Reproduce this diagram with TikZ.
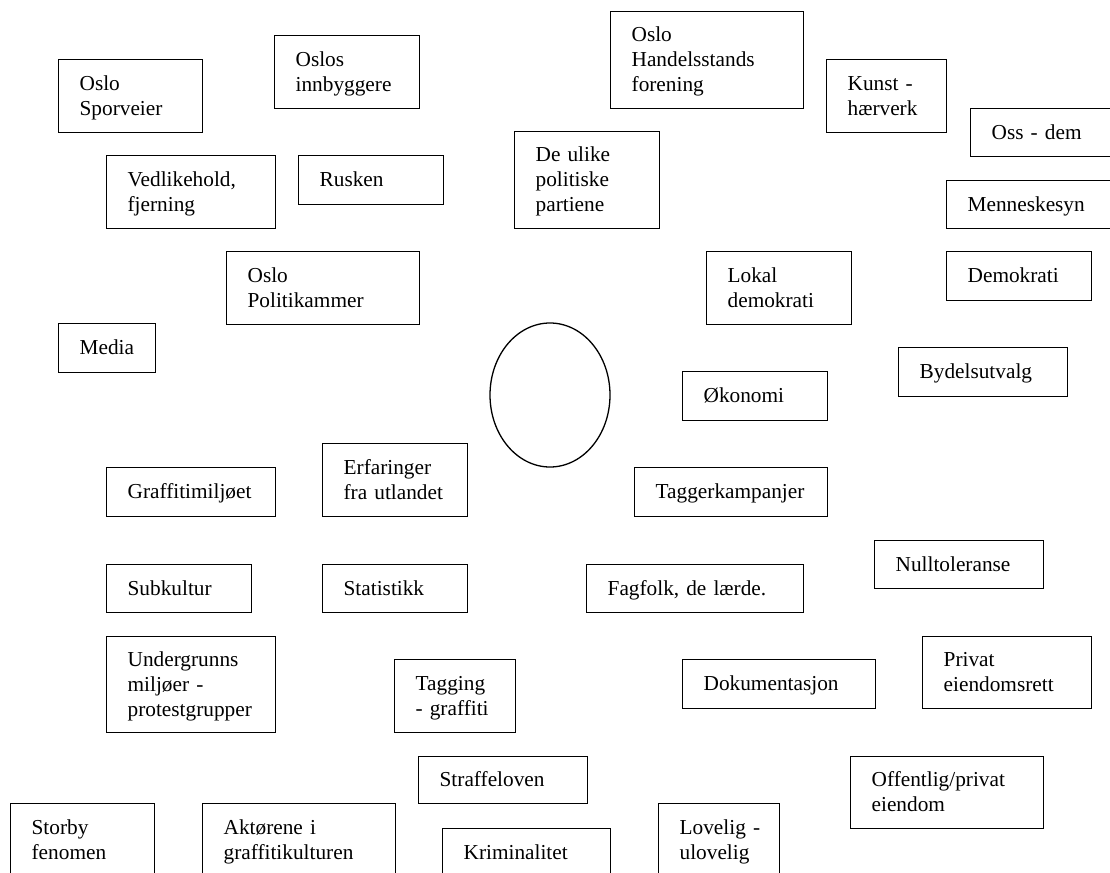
\documentclass[tikz,border=0pt]{standalone}
\usepackage{fontspec}
\setmainfont{Liberation Serif}
\usetikzlibrary{shapes.geometric}
\hyphenpenalty=10000
\exhyphenpenalty=10000
\newcommand{\linestrut}{\rule[-6pt]{0pt}{25pt}}
\tikzset{
	box/.style={draw, line width=1.3pt, anchor=north west, align=left,
		inner xsep=21pt, inner ysep=0pt,
		font=\fontsize{21.3pt}{25pt}\selectfont,
		execute at begin node=\linestrut, execute at end node=\linestrut},
	topic/.style n args={2}{box, text width=#1, minimum height=#2}
}
\begin{document}
\begin{tikzpicture}[x=1pt, y=-1pt]
	% page is 1110 x 872, y runs downwards
	\useasboundingbox (0,0) rectangle (1110,872);
	\clip (0,0) rectangle (1110,872);
	
	% the centre of the map
	\node[draw, ellipse, line width=1.3pt, inner sep=0pt, minimum width=120pt, minimum height=144pt] (centre) at (550,395) {};
	
	% top left
	\node[topic={102pt}{73pt}] (sporveier) at (58,59) {Oslo\\Sporveier};
	\node[topic={103pt}{73pt}] (innbyggere) at (274,35) {Oslos\\innbyggere};
	\node[topic={127pt}{73pt}] (vedlikehold) at (106,155) {Vedlikehold,\\fjerning};
	\node[topic={103pt}{49pt}] (rusken) at (298,155) {Rusken};
	\node[topic={103pt}{97pt}] (partiene) at (514,131) {De~ulike\\politiske\\partiene};
	\node[topic={151pt}{73pt}] (politikammer) at (226,251) {Oslo\\Politikammer};
	\node[topic={55pt}{49pt}] (media) at (58,323) {Media};
	
	% top right
	\node[topic={151pt}{97pt}] (handelsstand) at (610,11) {Oslo\\Handelsstands\\forening};
	\node[topic={78pt}{73pt}] (kunst) at (826,59) {Kunst~-\\hærverk};
	\node[topic={160pt}{48pt}] (ossdem) at (970,108) {Oss~-~dem};
	\node[topic={160pt}{48pt}] (menneskesyn) at (946,180) {Menneskesyn};
	\node[topic={103pt}{49pt}] (demokrati) at (946,251) {Demokrati};
	\node[topic={103pt}{73pt}] (lokal) at (706,251) {Lokal\\demokrati};
	\node[topic={127pt}{49pt}] (bydel) at (898,347) {Bydelsutvalg};
	\node[topic={103pt}{49pt}] (okonomi) at (682,371) {Økonomi};
	
	% middle rows
	\node[topic={127pt}{49pt}] (graffitimiljo) at (106,467) {Graffitimiljøet};
	\node[topic={103pt}{73pt}] (erfaringer) at (322,443) {Erfaringer\\fra~utlandet};
	\node[topic={151pt}{49pt}] (taggerkampanjer) at (634,467) {Taggerkampanjer};
	\node[topic={103pt}{48pt}] (subkultur) at (106,564) {Subkultur};
	\node[topic={103pt}{48pt}] (statistikk) at (322,564) {Statistikk};
	\node[topic={175pt}{48pt}] (fagfolk) at (586,564) {Fagfolk,~de~lærde.};
	\node[topic={127pt}{48pt}] (nulltoleranse) at (874,540) {Nulltoleranse};
	\node[topic={127pt}{96pt}] (undergrunn) at (106,636) {Undergrunns\\miljøer~-\\protestgrupper};
	\node[topic={79pt}{73pt}] (tagging) at (394,659) {Tagging\\-~graffiti};
	\node[topic={151pt}{49pt}] (dokumentasjon) at (682,659) {Dokumentasjon};
	\node[topic={127pt}{72pt}] (privat) at (922,636) {Privat\\eiendomsrett};
	
	% bottom, cut by the page edge
	\node[topic={127pt}{47pt}] (straffeloven) at (418,756) {Straffeloven};
	\node[topic={151pt}{72pt}] (offentlig) at (850,756) {Offentlig/privat\\eiendom};
	\node[topic={102pt}{73pt}] (storby) at (10,803) {Storby\\fenomen};
	\node[topic={151pt}{73pt}] (aktorene) at (202,803) {Aktørene~i\\graffitikulturen};
	\node[topic={126pt}{49pt}] (kriminalitet) at (442,828) {Kriminalitet};
	\node[topic={79pt}{73pt}] (lovelig) at (658,803) {Lovelig~-\\ulovelig};
	
\end{tikzpicture}
\end{document}
